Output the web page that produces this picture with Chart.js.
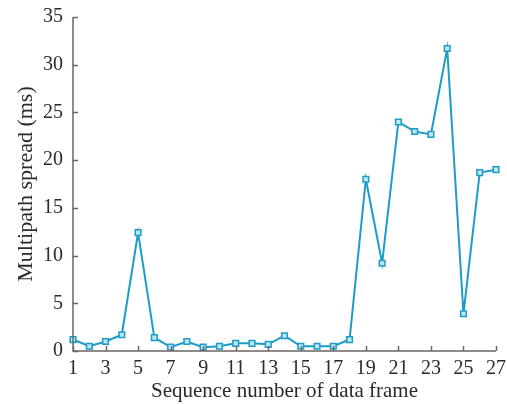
<!DOCTYPE html>
<html>
<head>
<meta charset="utf-8">
<script src="https://cdn.jsdelivr.net/npm/chart.js@4/dist/chart.umd.min.js"></script>
<style>
  html, body { margin: 0; padding: 0; background: #fff; }
  canvas { display: block; }
</style>
</head>
<body>
<canvas id="spreadChart" width="507" height="404"></canvas>
<script>
// frame numbers and measured multipath spread (ms)
const frames = [1,2,3,4,5,6,7,8,9,10,11,12,13,14,15,16,17,18,19,20,21,22,23,24,25,26,27];
const spread = [1.2,0.5,1.0,1.7,12.4,1.4,0.4,1.0,0.4,0.5,0.8,0.8,0.7,1.6,0.5,0.5,0.5,1.2,18.0,9.2,24.0,23.0,22.7,31.7,3.9,18.7,19.0];
const yTicks = [0,5,10,15,20,25,30,35];
const xTicks = [1,3,5,7,9,11,13,15,17,19,21,23,25,27];

const axisColor = '#6e6464';
const lineColor = '#1c9cc6';
const textColor = '#2a2a2a';

// draw the tick marks pointing into the plot, like the original figure
const inwardTicks = {
  id: 'inwardTicks',
  afterDraw(chart) {
    const { ctx, scales: { x, y } } = chart;
    ctx.save();
    ctx.strokeStyle = axisColor;
    ctx.lineWidth = 1.5;
    ctx.beginPath();
    ctx.moveTo(x.left, y.top);
    ctx.lineTo(x.left, y.bottom);
    ctx.lineTo(x.right, y.bottom);
    xTicks.forEach(v => {
      const px = Math.round(x.getPixelForValue(v)) + 0.5;
      ctx.moveTo(px, y.bottom);
      ctx.lineTo(px, y.bottom - 5);
    });
    yTicks.forEach(v => {
      const py = Math.round(y.getPixelForValue(v)) + 0.5;
      ctx.moveTo(x.left, py);
      ctx.lineTo(x.left + 5, py);
    });
    ctx.stroke();
    ctx.restore();
  }
};

const ctx = document.getElementById('spreadChart').getContext('2d');
new Chart(ctx, {
  type: 'line',
  data: {
    datasets: [{
      data: frames.map((f, i) => ({ x: f, y: spread[i] })),
      borderColor: lineColor,
      borderWidth: 2,
      pointStyle: 'rect',
      pointRadius: 4,
      pointBorderWidth: 1.5,
      pointBorderColor: lineColor,
      pointBackgroundColor: '#bfe6f3',
      tension: 0,
      clip: false
    }]
  },
  options: {
    responsive: false,
    animation: false,
    layout: { padding: { top: 17, right: 11, left: 0, bottom: 0 } },
    plugins: { legend: { display: false }, tooltip: { enabled: false } },
    scales: {
      x: {
        type: 'linear',
        min: 1,
        max: 27,
        afterBuildTicks: s => { s.ticks = xTicks.map(v => ({ value: v })); },
        afterFit: s => { s.height = 53; s.paddingLeft = 0; s.paddingRight = 0; },
        border: { display: false },
        grid: { display: false, drawTicks: false },
        ticks: {
          color: textColor,
          padding: 6,
          maxRotation: 0,
          autoSkip: false,
          font: { family: 'Liberation Serif', size: 20 }
        },
        title: {
          display: true,
          text: 'Sequence number of data frame',
          color: textColor,
          padding: { top: 0, bottom: 0 },
          font: { family: 'Liberation Serif', size: 21 }
        }
      },
      y: {
        type: 'linear',
        min: 0,
        max: 35,
        afterBuildTicks: s => { s.ticks = yTicks.map(v => ({ value: v })); },
        afterFit: s => { s.width = 73; s.paddingTop = 0; s.paddingBottom = 0; },
        border: { display: false },
        grid: { display: false, drawTicks: false },
        ticks: {
          color: textColor,
          padding: 10,
          font: { family: 'Liberation Serif', size: 20 }
        },
        title: {
          display: true,
          text: 'Multipath spread (ms)',
          color: textColor,
          padding: { top: 13, bottom: 0 },
          font: { family: 'Liberation Serif', size: 22 }
        }
      }
    }
  },
  plugins: [inwardTicks]
});
</script>
</body>
</html>
